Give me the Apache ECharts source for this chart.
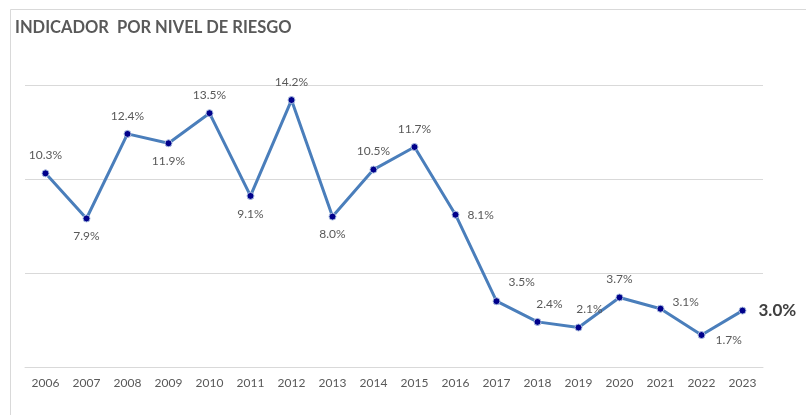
<!DOCTYPE html>
<html>
<head>
<meta charset="utf-8">
<script src="https://cdn.jsdelivr.net/npm/echarts@6/dist/echarts.min.js"></script>
<style>html,body{margin:0;padding:0;background:#fff}#c{width:806px;height:415px}</style>
</head>
<body>
<div id="c"></div>
<script>
const years = ['2006','2007','2008','2009','2010','2011','2012','2013','2014','2015','2016','2017','2018','2019','2020','2021','2022','2023'];
const values = [10.3, 7.9, 12.4, 11.9, 13.5, 9.1, 14.2, 8.0, 10.5, 11.7, 8.1, 3.5, 2.4, 2.1, 3.7, 3.1, 1.7, 3.0];
const labelPos = ['top','bottom','top','bottom','top','bottom','top','bottom','top','top','right','right','top','top','top','right','right','right'];
const yTicks = [0, 5, 10, 15];

const FONT = 'Lato, "Noto Sans", sans-serif';
const data = values.map((v, i) => {
  const lab = { position: labelPos[i] };
  if (i === 11) lab.offset = [0, -19];
  if (i === 12) lab.offset = [12, 0];
  if (i === 13) lab.offset = [11, 0];
  if (i === 15) lab.offset = [0, -7];
  if (i === 16) lab.offset = [2, 5];
  if (i === 17) { lab.fontSize = 17; lab.fontWeight = 'bold'; lab.color = '#404040'; lab.distance = 12; }
  return { value: v, label: lab };
});

const chart = echarts.init(document.getElementById('c'), null, { renderer: 'canvas' });
chart.setOption({
  animation: false,
  backgroundColor: '#fff',
  graphic: [{
    type: 'rect', shape: { x: 10.5, y: 9.5, width: 900, height: 500 },
    style: { fill: 'none', stroke: '#d9d9d9', lineWidth: 1 }, silent: true, z: -1
  }],
  title: {
    text: 'INDICADOR  POR NIVEL DE RIESGO', left: 10, top: 14,
    textStyle: { fontFamily: FONT, fontSize: 16.5, fontWeight: 'bold', color: '#595959' }
  },
  grid: { left: 25, right: 43, top: 85, bottom: 48 },
  xAxis: {
    type: 'category', data: years, boundaryGap: true,
    axisLine: { lineStyle: { color: '#d9d9d9', width: 1 } },
    axisTick: { show: false },
    axisLabel: { color: '#595959', fontFamily: FONT, fontSize: 12, margin: 10 }
  },
  yAxis: {
    type: 'value', min: yTicks[0], max: yTicks[yTicks.length - 1], interval: 5,
    axisLabel: { show: false }, axisLine: { show: false }, axisTick: { show: false },
    splitLine: { lineStyle: { color: '#d9d9d9', width: 1 } }
  },
  series: [{
    type: 'line', data: data,
    lineStyle: { color: '#4a7ebb', width: 3 },
    symbol: 'circle', symbolSize: 7,
    itemStyle: { color: '#00008b', borderColor: '#a9bde0', borderWidth: 1 },
    label: {
      show: true, fontFamily: FONT, fontSize: 12, color: '#595959', distance: 8,
      formatter: p => p.value.toFixed(1) + '%'
    }
  }]
});
</script>
</body>
</html>
